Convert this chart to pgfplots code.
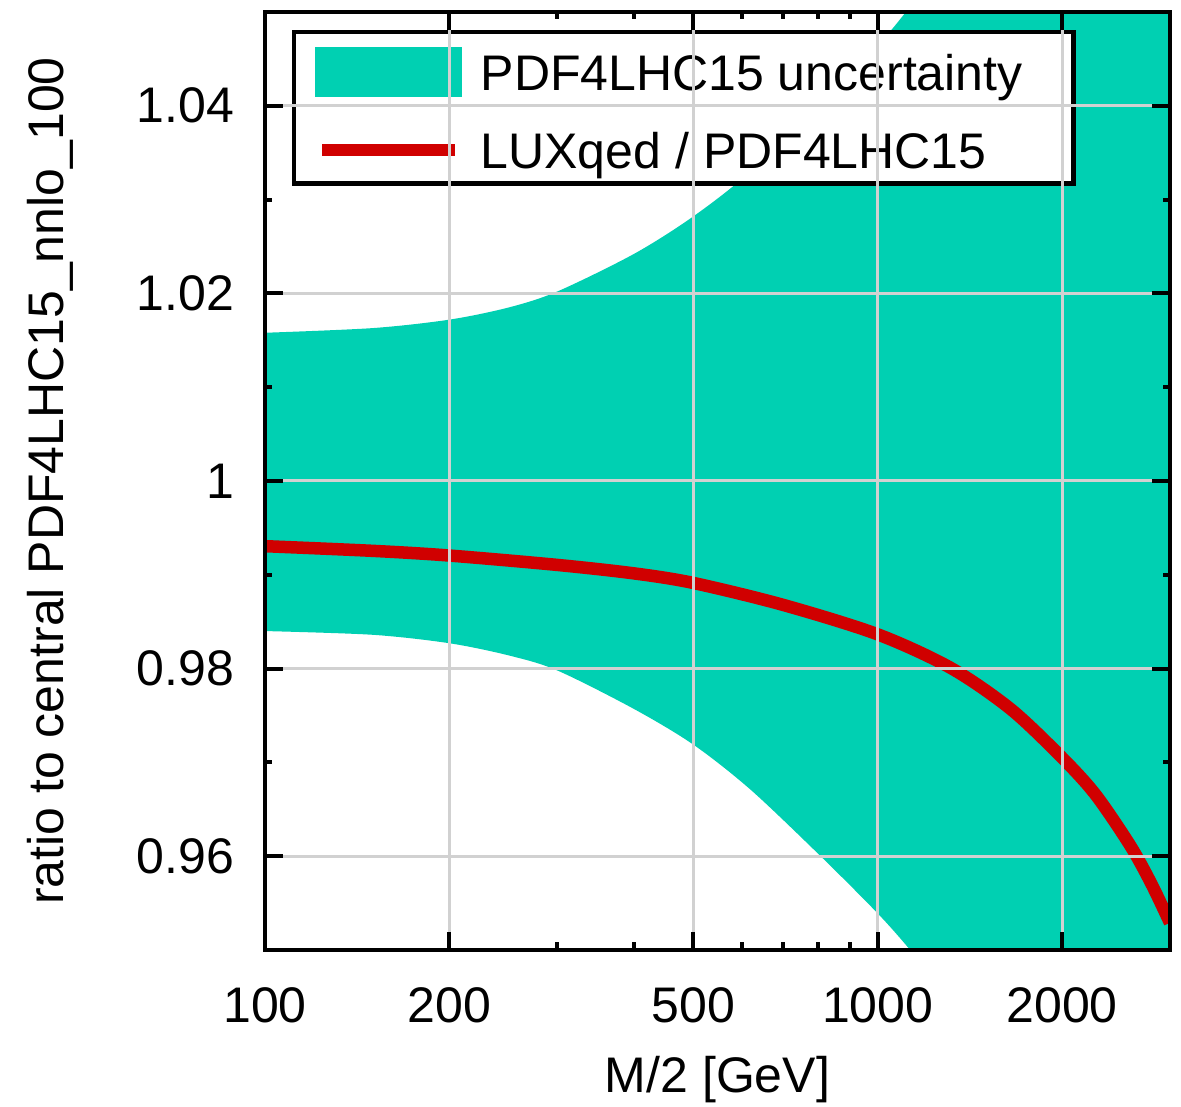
\documentclass[border=0pt]{standalone}
\usepackage{pgfplots}
\pgfplotsset{compat=1.18}
\usepgfplotslibrary{fillbetween}
\usepackage{fontspec}
\setmainfont{Liberation Sans}
\definecolor{bandc}{RGB}{0,208,178}
\definecolor{linec}{RGB}{208,0,0}
\begin{document}
\begin{tikzpicture}
\begin{axis}[
  name=ax,
  axis on top,
  scale only axis,
  width=181pt, height=187.6pt,
  xmode=log,
  xmin=100, xmax=3000,
  ymin=0.95, ymax=1.05,
  xtick={100,200,500,1000,2000},
  xticklabels={100,200,500,1000,2000},
  minor xtick={300,400,600,700,800,900},
  ytick={0.96,0.98,1,1.02,1.04},
  yticklabels={0.96,0.98,1,1.02,1.04},
  minor ytick={0.97,0.99,1.01,1.03},
  tick align=inside,
  major tick length=3.6pt,
  minor tick length=1.5pt,
  every tick/.style={black, line width=0.8pt},
  axis line style={line width=0.9pt},
  xmajorgrids, ymajorgrids,
  major grid style={line width=0.6pt, color=black!18},
  /pgf/number format/assume math mode=true,
  tick label style={font=\fontsize{10}{12}\selectfont},
  xticklabel style={yshift=-4pt},
  yticklabel style={xshift=-2.7pt},
  xlabel={M/2 [GeV]},
  ylabel={ratio to central PDF4LHC15\_nnlo\_100},
  label style={font=\fontsize{10}{12}\selectfont},
  xlabel style={at={(axis description cs:0.5,0)}, anchor=center, yshift=-26pt},
  ylabel style={at={(axis description cs:0,0.5)}, anchor=center, yshift=43pt},
  legend style={at={(0.0298,0.981)}, anchor=north west, draw=black, line width=0.9pt,
    fill=white, inner xsep=4.2pt, inner ysep=3.0pt, row sep=7pt,
    nodes={inner sep=0pt, text depth=0pt},
    font=\fontsize{10}{12}\selectfont},
  legend cell align=left,
  /tikz/every odd column/.append style={column sep=3.7pt},
]
\addplot[name path=up, draw=none, smooth, forget plot] coordinates {
  (100,1.0158) (150,1.0163) (200,1.0172) (250,1.0185) (300,1.0202)
  (400,1.0242) (500,1.0282) (620,1.0330) (786,1.0400)
  (1000,1.0465) (1112,1.0500) (1300,1.0558) (1600,1.0640) (2200,1.0764)
  (3000,1.0890)
  };
\addplot[name path=lo, draw=none, smooth, forget plot] coordinates {
  (100,0.9840) (150,0.9836) (200,0.9827) (250,0.9814) (300,0.9798)
  (400,0.9757) (500,0.9719) (620,0.9671) (807,0.9600)
  (1000,0.9539) (1130,0.9500) (1300,0.9451) (1600,0.9374) (2200,0.9250)
  (3000,0.9120)
  };
\addplot[fill=bandc, draw=none,
  legend image code/.code={\fill[bandc] (0pt,-5pt) rectangle (29.4pt,5pt);}]
  fill between[of=up and lo];
\addlegendentry{PDF4LHC15 uncertainty\hspace*{6pt}}
\addplot[linec, line width=2.5pt, smooth,
  legend image code/.code={\draw[linec, line width=2.5pt] (1.4pt,0pt) -- (28pt,0pt);}]
  coordinates {
  (100,0.99305) (150,0.99255) (200,0.99205) (300,0.99105) (400,0.99015)
  (500,0.98913) (700,0.98680) (1000,0.98365) (1316,0.98007)
  (1649,0.97568) (2000,0.97050) (2269,0.96654) (2586,0.96109) (2800,0.95700)
  (3000,0.95290)
  };
\addlegendentry{LUXqed / PDF4LHC15}
\end{axis}
\pgfresetboundingbox
\path ([xshift=-53pt,yshift=-31.4pt]ax.south west) rectangle ([xshift=2.2pt,yshift=2.4pt]ax.north east);
\end{tikzpicture}
\end{document}
